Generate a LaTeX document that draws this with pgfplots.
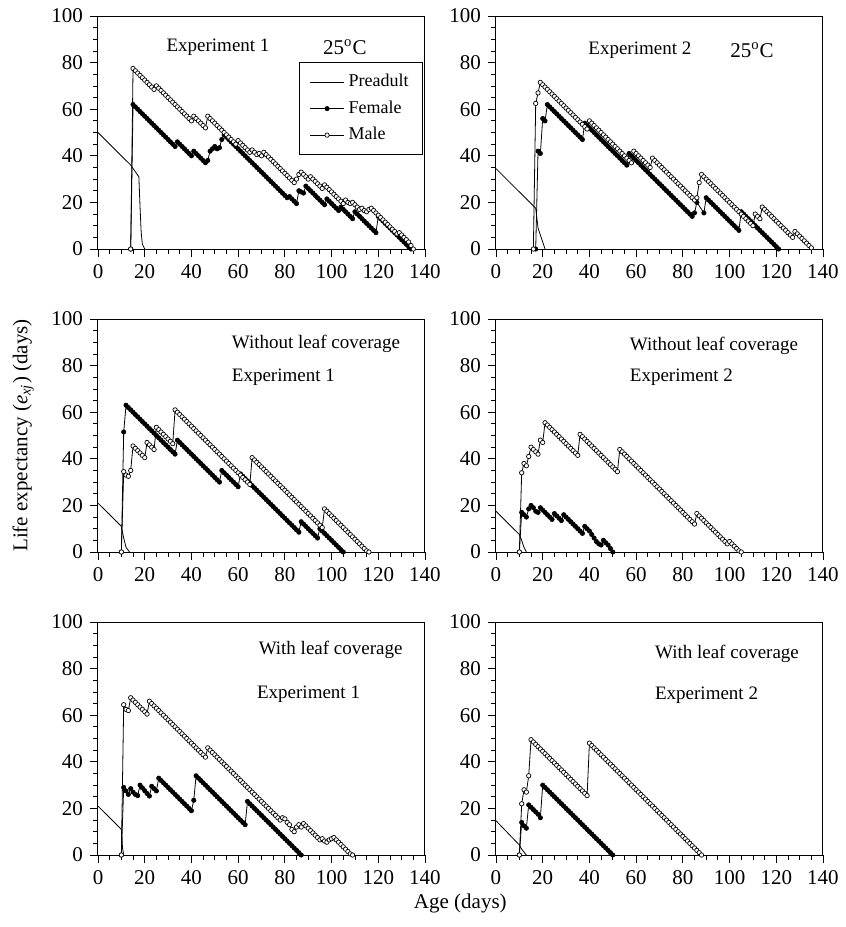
\documentclass[border=0pt]{standalone}
\usepackage{fontspec}
\setmainfont{Liberation Serif}
\usepackage{pgfplots}
\pgfplotsset{compat=1.18}
\usepgfplotslibrary{groupplots}
\pgfplotsset{
 pre/.style={black, line width=0.4pt, no markers},
 fem/.style={black, line width=0.4pt, mark=*, mark size=1.1pt, mark options={fill=black, draw=black, line width=0.3pt}},
 mal/.style={black, line width=0.4pt, mark=*, mark size=1.1pt, mark options={fill=white, draw=black, line width=0.35pt}},
}
\newcommand{\pf}{\fontsize{9.5}{11}\selectfont}
\begin{document}
\begin{tikzpicture}
\begin{groupplot}[
 group style={group size=2 by 3, horizontal sep=35.5pt, vertical sep=35pt},
 scale only axis, width=163.5pt, height=116.5pt,
 xmin=0, xmax=140, ymin=0, ymax=100,
 xtick={0,20,...,140}, ytick={0,20,...,100},
 minor x tick num=3, minor y tick num=3,
 tick align=outside, xtick pos=left, ytick pos=left,
 major tick length=4pt, minor tick length=2.5pt,
 tick style={black, line width=0.4pt},
 axis line style={line width=0.5pt},
 ticklabel style={font=\fontsize{10.5}{12}\selectfont},
 /pgf/number format/assume math mode=true,
 clip=false,
]
% ---------------- Panel 1
\nextgroupplot[legend style={draw=black, line width=0.5pt, font=\fontsize{9}{10}\selectfont, at={(0.994,0.803)}, anchor=north east, inner xsep=5pt, inner ysep=4pt, row sep=1.5pt, cells={anchor=west}}]
\addplot[pre] coordinates {(0,50)(14,36)(17.5,31)(18,18)(18.5,7)(19,2)(20,0)};
\addlegendentry{Preadult\hspace{6pt}}
\addplot[fem] coordinates {(14,0)(15,62)(16,61)(17,60)(18,59)(19,58)(20,57)(21,56)(22,55)(23,54)(24,53)(25,52)(26,51)(27,50)(28,49)(29,48)(30,47)(31,46)(32,45)(33,44)(34,46)(35,45)(36,44)(37,43)(38,42)(39,41)(40,40)(41,42)(42,41)(43,40)(44,39)(45,38)(46,37)(47,38)(48,42)(49,43)(50,44)(51,43)(52,43.5)(53,47)(54,49)(55,48)(56,47)(57,46)(58,45)(59,44)(60,43)(61,42)(62,41)(63,40)(64,39)(65,38)(66,37)(67,36)(68,35)(69,34)(70,33)(71,32)(72,31)(73,30)(74,29)(75,28)(76,27)(77,26)(78,25)(79,24)(80,23)(81,22)(82,22.5)(83,21.5)(84,20.5)(85,19.5)(86,25)(87,24.5)(88,24)(89,27)(90,26)(91,25)(92,24)(93,23)(94,22)(95,21)(96,20)(97,19)(98,21.5)(99,20.5)(100,19.5)(101,18.5)(102,17.5)(103,16.5)(104,18)(105,17)(106,16)(107,15)(108,14)(109,13)(110,16)(111,15)(112,14)(113,13)(114,12)(115,11)(116,10)(117,9)(118,8)(119,7)(120,14)(121,13)(122,12)(123,11)(124,10)(125,9)(126,8)(127,7)(128,6)(129,5)(130,4)(131,3)(132,2)(133,1)(134,0)};
\addlegendentry{Female}
\addplot[mal] coordinates {(14,0)(15,77.5)(16,76.5)(17,75.5)(18,74.5)(19,73.5)(20,72.5)(21,71.5)(22,70.5)(23,69.5)(24,68.5)(25,70)(26,69)(27,68)(28,67)(29,66)(30,65)(31,64)(32,63)(33,62)(34,61)(35,60)(36,59)(37,58)(38,57)(39,56)(40,55)(41,57)(42,56)(43,55)(44,54)(45,53)(46,52)(47,57)(48,56)(49,55)(50,54)(51,53)(52,52)(53,51)(54,50)(55,49)(56,48)(57,47)(58,46)(59,45)(60,46.5)(61,45.5)(62,44.5)(63,43.5)(64,42.5)(65,41.5)(66,42.5)(67,41.5)(68,40.5)(69,41)(70,40)(71,41.5)(72,40.5)(73,39.5)(74,38.5)(75,37.5)(76,36.5)(77,35.5)(78,34.5)(79,33.5)(80,32.5)(81,31.5)(82,30.5)(83,29.5)(84,28.5)(85,30)(86,32)(87,33)(88,32)(89,31)(90,30)(91,31)(92,30)(93,29)(94,28)(95,27)(96,26)(97,27.5)(98,26.5)(99,25.5)(100,24.5)(101,23.5)(102,22.5)(103,21.5)(104,20.5)(105,19.5)(106,21)(107,20)(108,19.5)(109,20)(110,19)(111,18)(112,17)(113,17.5)(114,16.5)(115,16)(116,17)(117,17.5)(118,16.5)(119,15.5)(120,14.5)(121,13.5)(122,12.5)(123,11.5)(124,10.5)(125,9.5)(126,8.5)(127,7.5)(128,6.5)(129,7)(130,6)(131,5)(132,4)(133,3)(134,1.5)(135,0)};
\addlegendentry{Male}
\node[font=\pf] at (rel axis cs:0.367,0.867) {Experiment 1};
\node[font=\fontsize{10.5}{12}\selectfont] at (rel axis cs:0.755,0.867) {25\textsuperscript{o}C};
% ---------------- Panel 2
\nextgroupplot
\addplot[pre] coordinates {(0,34.5)(17,17.5)(18,9)(21,0)};
\addplot[fem] coordinates {(17,0)(18,42)(19,41)(20,56)(21,55)(22,62)(23,61)(24,60)(25,59)(26,58)(27,57)(28,56)(29,55)(30,54)(31,53)(32,52)(33,51)(34,50)(35,49)(36,48)(37,47)(38,54)(39,53)(40,52)(41,51)(42,50)(43,49)(44,48)(45,47)(46,46)(47,45)(48,44)(49,43)(50,42)(51,41)(52,40)(53,39)(54,38)(55,37)(56,36)(57,41)(58,40)(59,39)(60,38)(61,37)(62,36)(63,35)(64,34)(65,33)(66,32)(67,31)(68,30)(69,29)(70,28)(71,27)(72,26)(73,25)(74,24)(75,23)(76,22)(77,21)(78,20)(79,19)(80,18)(81,17)(82,16)(83,15)(84,14)(85,15.5)(86,20)(89,15.5)(90,22)(91,21)(92,20)(93,19)(94,18)(95,17)(96,16)(97,15)(98,14)(99,13)(100,12)(101,11)(102,10)(103,9)(104,8)(105,16)(106,15)(107,14)(108,13)(109,12)(110,11)(111,10)(112,9)(113,8)(114,7)(115,6)(116,5)(117,4)(118,3)(119,2)(120,1)(121,0)};
\addplot[mal] coordinates {(16,0)(17,62.5)(18,67)(19,71.5)(20,70.5)(21,69.5)(22,68.5)(23,67.5)(24,66.5)(25,65.5)(26,64.5)(27,63.5)(28,62.5)(29,61.5)(30,60.5)(31,59.5)(32,58.5)(33,57.5)(34,56.5)(35,55.5)(36,54.5)(37,53.5)(38,52.5)(39,51.5)(40,55)(41,54)(42,53)(43,52)(44,51)(45,50)(46,49)(47,48)(48,47)(49,46)(50,45)(51,44)(52,43)(53,42)(54,41)(55,40)(56,39)(57,38)(58,37)(59,42)(60,41)(61,40)(62,39)(63,38)(64,37)(65,36)(66,35)(67,39)(68,38)(69,37)(70,36)(71,35)(72,34)(73,33)(74,32)(75,31)(76,30)(77,29)(78,28)(79,27)(80,26)(81,25)(82,24)(83,23)(84,22)(85,21)(86,22)(87,28.5)(88,32)(89,31)(90,30)(91,29)(92,28)(93,27)(94,26)(95,25)(96,24)(97,23)(98,22)(99,21)(100,20)(101,19)(102,18)(103,17)(104,16)(105,15)(106,14)(107,13)(108,12)(109,11)(110,10)(111,15)(112,14)(113,13)(114,18)(115,17)(116,16)(117,15)(118,14)(119,13)(120,12)(121,11)(122,10)(123,9)(124,8)(125,7)(126,6)(127,5)(128,7.5)(129,6.5)(130,5.5)(131,4.5)(132,3.5)(133,2.5)(134,1.5)(135,0.5)};
\node[font=\pf] at (rel axis cs:0.44,0.854) {Experiment 2};
\node[font=\fontsize{10.5}{12}\selectfont] at (rel axis cs:0.783,0.854) {25\textsuperscript{o}C};
% ---------------- Panel 3
\nextgroupplot[ylabel={Life expectancy (\textit{e}\textsubscript{\textit{xj}}) (days)}, ylabel style={at={(axis description cs:-0.229,0.5)}, anchor=center, font=\fontsize{10.5}{12}\selectfont}]
\addplot[pre] coordinates {(0,21)(10,11)(11,6)(12,2)(13.5,0)};
\addplot[fem] coordinates {(10,0)(11,51.5)(12,63)(13,62)(14,61)(15,60)(16,59)(17,58)(18,57)(19,56)(20,55)(21,54)(22,53)(23,52)(24,51)(25,50)(26,49)(27,48)(28,47)(29,46)(30,45)(31,44)(32,43)(33,42)(34,48)(35,47)(36,46)(37,45)(38,44)(39,43)(40,42)(41,41)(42,40)(43,39)(44,38)(45,37)(46,36)(47,35)(48,34)(49,33)(50,32)(51,31)(52,30)(53,35)(54,34)(55,33)(56,32)(57,31)(58,30)(59,29)(60,28)(61,33.5)(62,32.5)(63,31.5)(64,30.5)(65,29.5)(66,28.5)(67,27.5)(68,26.5)(69,25.5)(70,24.5)(71,23.5)(72,22.5)(73,21.5)(74,20.5)(75,19.5)(76,18.5)(77,17.5)(78,16.5)(79,15.5)(80,14.5)(81,13.5)(82,12.5)(83,11.5)(84,10.5)(85,9.5)(86,8.5)(87,13)(88,12)(89,11)(90,10)(91,9)(92,8)(93,7)(94,6)(95,10)(96,9)(97,8)(98,7)(99,6)(100,5)(101,4)(102,3)(103,2)(104,1)(105,0)};
\addplot[mal] coordinates {(10,0)(11,34.5)(12,33)(13,32.5)(14,35)(15,45.5)(16,44.5)(17,43.5)(18,42.5)(19,41.5)(20,40.5)(21,47)(22,46)(23,45)(24,44)(25,53.5)(26,52.5)(27,51.5)(28,50.5)(29,49.5)(30,48.5)(31,47.5)(32,46.5)(33,61)(34,60)(35,59)(36,58)(37,57)(38,56)(39,55)(40,54)(41,53)(42,52)(43,51)(44,50)(45,49)(46,48)(47,47)(48,46)(49,45)(50,44)(51,43)(52,42)(53,41)(54,40)(55,39)(56,38)(57,37)(58,36)(59,35)(60,34)(61,33)(62,32)(63,31)(64,30)(65,29)(66,40.5)(67,39.5)(68,38.5)(69,37.5)(70,36.5)(71,35.5)(72,34.5)(73,33.5)(74,32.5)(75,31.5)(76,30.5)(77,29.5)(78,28.5)(79,27.5)(80,26.5)(81,25.5)(82,24.5)(83,23.5)(84,22.5)(85,21.5)(86,20.5)(87,19.5)(88,18.5)(89,17.5)(90,16.5)(91,15.5)(92,14.5)(93,13.5)(94,12.5)(95,11.5)(96,10.5)(97,18.5)(98,17.5)(99,16.5)(100,15.5)(101,14.5)(102,13.5)(103,12.5)(104,11.5)(105,10.5)(106,9.5)(107,8.5)(108,7.5)(109,6.5)(110,5.5)(111,4.5)(112,3.5)(113,2.5)(114,1.5)(115,0.5)(116,0)};
\node[font=\pf, anchor=west] at (rel axis cs:0.388,0.893) {Without leaf coverage};
\node[font=\pf, anchor=west] at (rel axis cs:0.388,0.752) {Experiment 1};
% ---------------- Panel 4
\nextgroupplot
\addplot[pre] coordinates {(0,17.5)(10,7.5)(11,5)(12,2)(13,0)};
\addplot[fem] coordinates {(10,0)(11,17)(12,16)(13,15)(14,18.5)(15,20)(16,19)(17,17.5)(18,17)(19,19)(20,18)(21,17)(22,16)(23,15)(24,14)(25,16.5)(26,15.5)(27,14.5)(28,13.5)(29,16)(30,15)(31,14)(32,13)(33,12)(34,11)(35,10)(36,9)(37,8)(38,11)(39,10)(40,9)(41,7.5)(42,6)(43,4.5)(44,3.5)(45,3)(46,5)(47,4)(48,3)(49,1.5)(50,0)};
\addplot[mal] coordinates {(10,0)(11,34)(12,38)(13,37)(14,41)(15,45)(16,44)(17,43)(18,42)(19,48)(20,47)(21,55.5)(22,54.5)(23,53.5)(24,52.5)(25,51.5)(26,50.5)(27,49.5)(28,48.5)(29,47.5)(30,46.5)(31,45.5)(32,44.5)(33,43.5)(34,42.5)(35,41.5)(36,50.5)(37,49.5)(38,48.5)(39,47.5)(40,46.5)(41,45.5)(42,44.5)(43,43.5)(44,42.5)(45,41.5)(46,40.5)(47,39.5)(48,38.5)(49,37.5)(50,36.5)(51,35.5)(52,34.5)(53,44)(54,43)(55,42)(56,41)(57,40)(58,39)(59,38)(60,37)(61,36)(62,35)(63,34)(64,33)(65,32)(66,31)(67,30)(68,29)(69,28)(70,27)(71,26)(72,25)(73,24)(74,23)(75,22)(76,21)(77,20)(78,19)(79,18)(80,17)(81,16)(82,15)(83,14)(84,13)(85,12)(86,16.5)(87,15.5)(88,14.5)(89,13.5)(90,12.5)(91,11.5)(92,10.5)(93,9.5)(94,8.5)(95,7.5)(96,6.5)(97,5.5)(98,4.5)(99,3.5)(100,4.5)(101,3.5)(102,2.5)(103,1.5)(104,0.5)(105,0)};
\node[font=\pf, anchor=west] at (rel axis cs:0.388,0.885) {Without leaf coverage};
\node[font=\pf, anchor=west] at (rel axis cs:0.388,0.752) {Experiment 2};
% ---------------- Panel 5
\nextgroupplot[xlabel={Age (days)}, xlabel style={at={(axis description cs:1.108,-0.21)}, anchor=center, font=\fontsize{10.5}{12}\selectfont}]
\addplot[pre] coordinates {(0,21)(10,11)(10.5,3)(11,0)};
\addplot[fem] coordinates {(10,0)(11,29)(12,27.5)(13,26)(14,28.5)(15,27)(16,26)(17,25.5)(18,30)(19,28.8)(20,27.6)(21,26.4)(22,25.3)(23,29.5)(24,28.5)(25,27.5)(26,33)(27,32)(28,31)(29,30)(30,29)(31,28)(32,27)(33,26)(34,25)(35,24)(36,23)(37,22)(38,21)(39,20)(40,19)(41,23.5)(42,34)(43,33)(44,32)(45,31)(46,30)(47,29)(48,28)(49,27)(50,26)(51,25)(52,24)(53,23)(54,22)(55,21)(56,20)(57,19)(58,18)(59,17)(60,16)(61,15)(62,14)(63,13)(64,23)(65,22)(66,21)(67,20)(68,19)(69,18)(70,17)(71,16)(72,15)(73,14)(74,13)(75,12)(76,11)(77,10)(78,9)(79,8)(80,7)(81,6)(82,5)(83,4)(84,3)(85,2)(86,1)(87,0)};
\addplot[mal] coordinates {(10,0)(11,64.5)(12,62.5)(13,62)(14,67.5)(15,66.5)(16,65.5)(17,64.5)(18,63.5)(19,62.5)(20,61.5)(21,60.5)(22,66)(23,65)(24,64)(25,63)(26,62)(27,61)(28,60)(29,59)(30,58)(31,57)(32,56)(33,55)(34,54)(35,53)(36,52)(37,51)(38,50)(39,49)(40,48)(41,47)(42,46)(43,45)(44,44)(45,43)(46,42)(47,46)(48,45)(49,44)(50,43)(51,42)(52,41)(53,40)(54,39)(55,38)(56,37)(57,36)(58,35)(59,34)(60,33)(61,32)(62,31)(63,30)(64,29)(65,28)(66,27)(67,26)(68,25)(69,24)(70,23)(71,22)(72,21)(73,20)(74,19)(75,18)(76,17)(77,16)(78,15)(79,16)(80,15.5)(81,14)(82,13)(83,11)(84,10)(85,12)(86,13)(87,12)(88,13.5)(89,12.5)(90,11.5)(91,10.5)(92,9.5)(93,8.5)(94,7.5)(95,6.5)(96,7)(97,6)(98,5.5)(99,6.5)(100,7)(101,7.5)(102,6.5)(103,5.5)(104,4.5)(105,3.5)(106,2.5)(107,1.5)(108,0.5)(109,0)};
\node[font=\pf, anchor=west] at (rel axis cs:0.47,0.88) {With leaf coverage};
\node[font=\pf, anchor=west] at (rel axis cs:0.465,0.69) {Experiment 1};
% ---------------- Panel 6
\nextgroupplot
\addplot[pre] coordinates {(0,14.7)(10,4.3)(11,2.5)(13,0)};
\addplot[fem] coordinates {(10,0)(11,14)(12,12.5)(13,11.5)(14,21.5)(15,20.5)(16,19.5)(17,18.5)(18,17.5)(19,16)(20,30)(21,29)(22,28)(23,27)(24,26)(25,25)(26,24)(27,23)(28,22)(29,21)(30,20)(31,19)(32,18)(33,17)(34,16)(35,15)(36,14)(37,13)(38,12)(39,11)(40,10)(41,9)(42,8)(43,7)(44,6)(45,5)(46,4)(47,3)(48,2)(49,1)(50,0)};
\addplot[mal] coordinates {(10,0)(11,22)(12,28)(13,27)(14,34)(15,49.5)(16,48.5)(17,47.5)(18,46.5)(19,45.5)(20,44.5)(21,43.5)(22,42.5)(23,41.5)(24,40.5)(25,39.5)(26,38.5)(27,37.5)(28,36.5)(29,35.5)(30,34.5)(31,33.5)(32,32.5)(33,31.5)(34,30.5)(35,29.5)(36,28.5)(37,27.5)(38,26.5)(39,25.5)(40,48)(41,47)(42,46)(43,45)(44,44)(45,43)(46,42)(47,41)(48,40)(49,39)(50,38)(51,37)(52,36)(53,35)(54,34)(55,33)(56,32)(57,31)(58,30)(59,29)(60,28)(61,27)(62,26)(63,25)(64,24)(65,23)(66,22)(67,21)(68,20)(69,19)(70,18)(71,17)(72,16)(73,15)(74,14)(75,13)(76,12)(77,11)(78,10)(79,9)(80,8)(81,7)(82,6)(83,5)(84,4)(85,3)(86,2)(87,1)(88,0)};
\node[font=\pf, anchor=west] at (rel axis cs:0.465,0.863) {With leaf coverage};
\node[font=\pf, anchor=west] at (rel axis cs:0.465,0.684) {Experiment 2};
\end{groupplot}
\path ([xshift=-49pt,yshift=8pt]group c1r1.north west) rectangle ([xshift=8.5pt,yshift=-36pt]group c2r3.south east);
\end{tikzpicture}
\end{document}
